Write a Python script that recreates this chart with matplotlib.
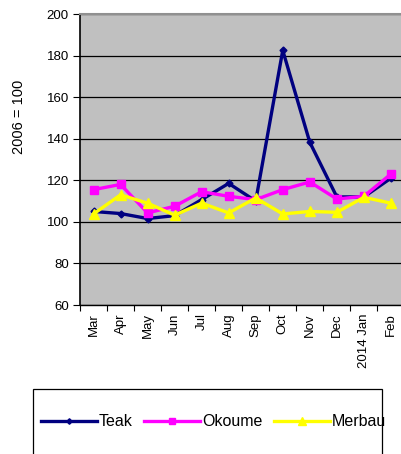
import matplotlib
matplotlib.use("Agg")
import matplotlib.pyplot as plt
from matplotlib.patches import Rectangle

months = ["Mar", "Apr", "May", "Jun", "Jul", "Aug", "Sep", "Oct", "Nov", "Dec", "2014 Jan", "Feb"]
teak = [105, 104, 101.6, 103, 110.7, 118.5, 110, 182.5, 138.3, 112, 112, 121]
okoume = [115.5, 118, 104.3, 107.5, 114.5, 112.3, 110.7, 115.5, 119.2, 111, 112.3, 123]
merbau = [103.8, 113, 109, 103.2, 109, 104.3, 111.5, 103.8, 105, 104.6, 111.8, 109]

plt.rcParams['font.family'] = ['Liberation Sans', 'DejaVu Sans']

fig = plt.figure(figsize=(4.02, 4.54), dpi=100)
ax = fig.add_axes([80 / 402, (454 - 305) / 454, 324.4 / 402, 291 / 454])
ax.set_facecolor("#C0C0C0")

x = list(range(len(months)))
ax.plot(x, teak, color="#000080", lw=2.4, marker="D", ms=3.5, label="Teak", zorder=3)
ax.plot(x, okoume, color="#FF00FF", lw=2.4, marker="s", ms=6, label="Okoume", zorder=4)
ax.plot(x, merbau, color="#FFFF00", lw=2.4, marker="^", ms=6.5, label="Merbau", zorder=5)

ax.set_xlim(-0.5, len(months) - 0.5)
ax.set_ylim(60, 200)
ax.set_yticks(range(60, 201, 20))
ax.yaxis.grid(True, color="black", lw=0.9)
ax.set_axisbelow(True)

# ticks sit between categories, labels at the category centres
ax.set_xticks([i - 0.5 for i in range(len(months) + 1)])
ax.set_xticklabels([])
ax.set_xticks(x, minor=True)
ax.set_xticklabels(months, minor=True, rotation=90, fontsize=9.5)
ax.tick_params(axis="x", which="minor", length=0, pad=6)
ax.tick_params(axis="x", which="major", length=4, direction="out")
ax.tick_params(axis="y", length=5, direction="out", labelsize=9.5, pad=3)

ax.spines["right"].set_visible(False)
ax.spines["top"].set_color("#909090")
ax.spines["top"].set_linewidth(1.5)
ax.spines["left"].set_linewidth(1.2)
ax.spines["bottom"].set_linewidth(1.0)

fig.text(19 / 402, 1 - 117 / 454, "2006 = 100", rotation=90, ha="center", va="center", fontsize=10.5)

# legend box (bottom part cut off by the image edge)
fig.patches.append(Rectangle((33 / 402, -0.05), 349 / 402, (454 - 389) / 454 + 0.05,
                             transform=fig.transFigure, fill=False, ec="black", lw=0.9))
fig.legend(loc="center left", bbox_to_anchor=(41 / 402, 1 - 422 / 454), ncol=3, frameon=False,
           fontsize=11.5, handlelength=3.5, handletextpad=0.1, columnspacing=0.75,
           borderpad=0, borderaxespad=0, markerscale=0.8)

fig.savefig("out.png", dpi=100)
